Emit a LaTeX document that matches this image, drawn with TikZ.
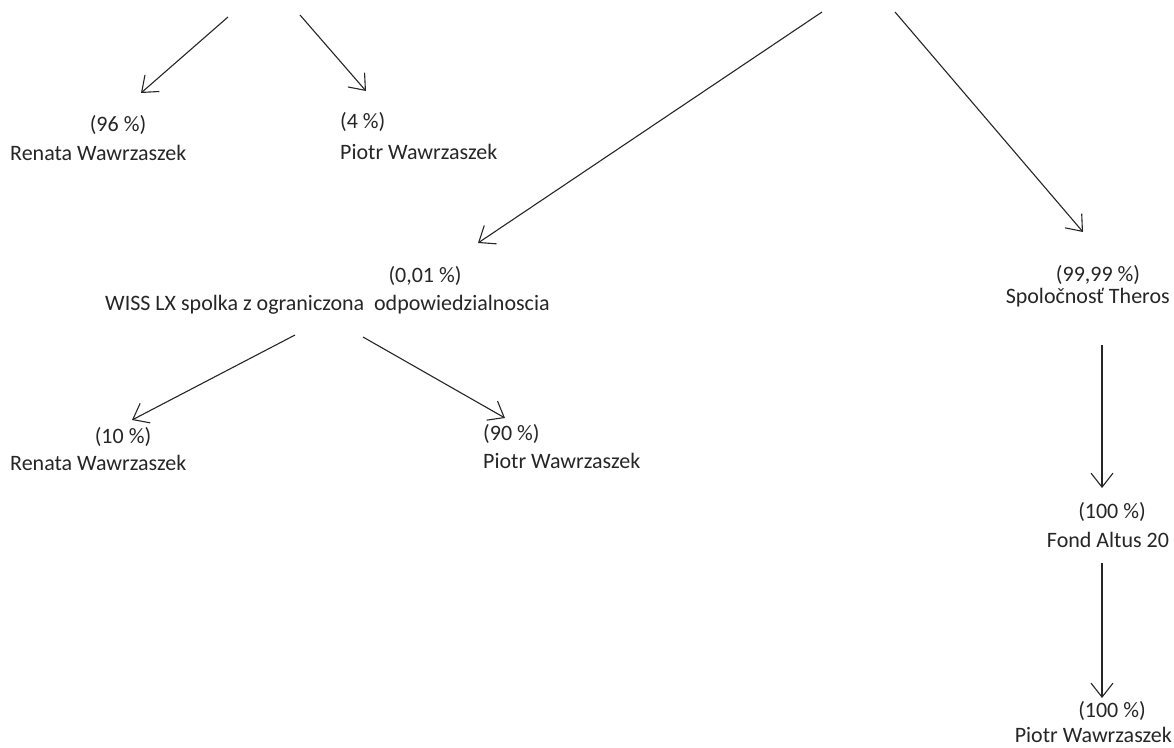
\documentclass[tikz,border=0pt]{standalone}
\usepackage{fontspec}
\setmainfont{Carlito}
\usetikzlibrary{arrows.meta}
\definecolor{ink}{HTML}{262626}
\begin{document}
\begin{tikzpicture}[x=1pt,y=-1pt,
  lbl/.style={font=\fontsize{22}{26}\selectfont, inner sep=0pt, text=ink},
  link/.style={draw=ink, line width=1.1pt, -{Straight Barb[length=14pt,width=22pt,line width=1.1pt]}}]
\fill[white] (0,0) rectangle (1174,747);
\useasboundingbox (0,0) rectangle (1174,747);
% free ends
\coordinate (s1) at (228,17);
\coordinate (s2) at (300,15);
\coordinate (s3) at (822,12);
\coordinate (s4) at (895,12);
% labels
\node[lbl] (p96) at (118,125) {(96 \%)};
\node[lbl, anchor=west] (r1) at (10,153) {Renata Wawrzaszek};
\node[lbl, anchor=west] (p4) at (340,122) {(4 \%)};
\node[lbl, anchor=west] (pt1) at (340,152) {Piotr Wawrzaszek};
\node[lbl] (p001) at (425,276) {(0,01 \%)};
\node[lbl, anchor=west] (wiss) at (105,305) {WISS LX spolka z ograniczona\ \ odpowiedzialnoscia};
\node[lbl] (p9999) at (1098,275) {(99,99 \%)};
\node[lbl, anchor=east] (theros) at (1170,298) {Spoločnosť Theros};
\node[lbl] (p10) at (123,437) {(10 \%)};
\node[lbl, anchor=west] (r2) at (10,463) {Renata Wawrzaszek};
\node[lbl, anchor=west] (p90) at (483,434) {(90 \%)};
\node[lbl, anchor=west] (pt2) at (483,461) {Piotr Wawrzaszek};
\node[lbl] (p100a) at (1112,512) {(100 \%)};
\node[lbl] (fond) at (1108,540) {Fond Altus 20};
\node[lbl] (p100b) at (1112,711) {(100 \%)};
\node[lbl, anchor=east] (pt3) at (1172,735) {Piotr Wawrzaszek};
% connectors
\draw[link] (s1) -- ([shift={(23,-32)}]p96.center);
\draw[link] (s2) -- ([shift={(26,-31)}]p4.west);
\draw[link] (s3) -- ([shift={(53,-33)}]p001.center);
\draw[link] (s4) -- ([shift={(-15,-43)}]p9999.center);
\draw[link] ([shift={(190,30)}]wiss.west) -- ([shift={(9,-17)}]p10.center);
\draw[link] ([shift={(258,32)}]wiss.west) -- ([shift={(22,-16)}]p90.west);
\draw[link] ([shift={(-68,47)}]theros.east) -- ([shift={(-10,-24)}]p100a.center);
\draw[link] ([shift={(-6,23)}]fond.center) -- ([shift={(-10,-13)}]p100b.center);
\end{tikzpicture}
\end{document}
